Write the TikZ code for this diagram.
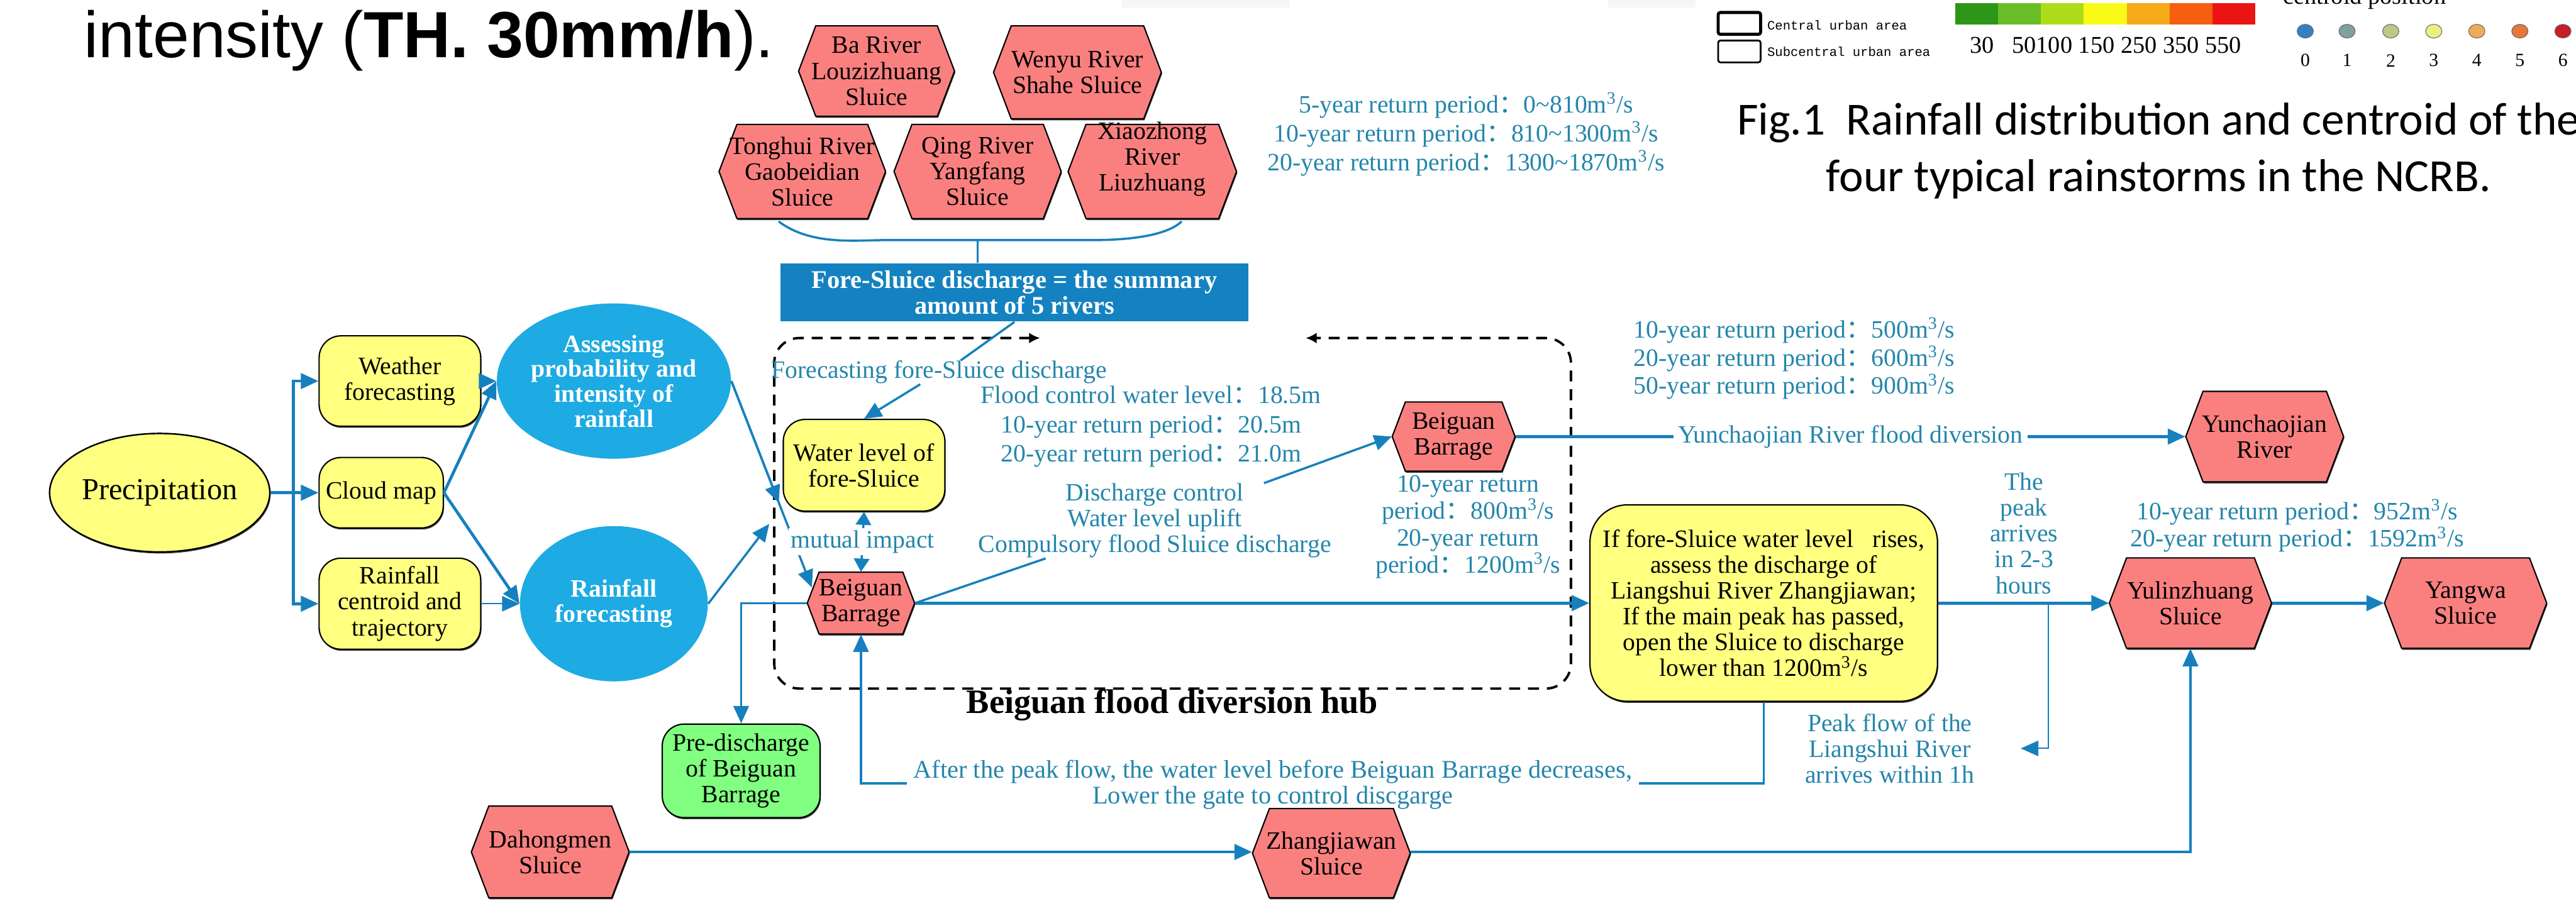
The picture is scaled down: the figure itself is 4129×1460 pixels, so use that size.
\documentclass[tikz,border=0pt]{standalone}
\usepackage{fontspec}
\setmainfont{Liberation Serif}
\newfontfamily\sansf{Liberation Sans}
\newfontfamily\capf{Carlito}
\newfontfamily\monof{Liberation Mono}
\newfontfamily\cjkf{Noto Sans CJK SC}
\usetikzlibrary{shapes.geometric,arrows.meta,calc,shadows}

\definecolor{ablue}{RGB}{22,128,190}
\definecolor{tblue}{RGB}{36,134,172}
\definecolor{lblue}{RGB}{30,170,226}
\definecolor{bbox}{RGB}{20,130,192}
\definecolor{yel}{RGB}{255,255,128}
\definecolor{grn}{RGB}{128,255,128}
\definecolor{hexred}{RGB}{250,128,128}
\definecolor{cb1}{RGB}{45,150,25}
\definecolor{cb2}{RGB}{105,190,40}
\definecolor{cb3}{RGB}{175,220,25}
\definecolor{cb4}{RGB}{250,250,25}
\definecolor{cb5}{RGB}{245,170,25}
\definecolor{cb6}{RGB}{245,95,15}
\definecolor{cb7}{RGB}{235,20,20}
\definecolor{d0}{RGB}{50,130,195}
\definecolor{d1}{RGB}{130,160,160}
\definecolor{d2}{RGB}{190,200,130}
\definecolor{d3}{RGB}{235,240,130}
\definecolor{d4}{RGB}{240,170,90}
\definecolor{d5}{RGB}{230,120,60}
\definecolor{d6}{RGB}{200,30,40}

\newcommand\fc{{\cjkf ：}}
\newcommand\msq{m\textsuperscript{3}/s}

\tikzset{
  shd/.style={drop shadow={shadow xshift=0.35pt, shadow yshift=-0.7pt, fill=black!75, opacity=1}},
  ybox/.style={draw=black, line width=0.6pt, fill=yel, rounded corners=3.5mm, align=center,
    inner sep=0pt, shd, font=\fontsize{11.4}{11.8}\selectfont},
  hexlabel/.style={align=center, inner sep=0pt, font=\fontsize{11.4}{11.8}\selectfont},
  hexsty/.style={fill=hexred, draw=black, line width=0.6pt, shd},
  bell/.style={ellipse, fill=lblue, text=white, align=center, inner sep=0pt,
    font=\bfseries\fontsize{11.4}{11.4}\selectfont},
  btxt/.style={text=tblue, align=center, inner sep=0pt, font=\fontsize{11.4}{11.8}\selectfont},
  thk/.style={draw=ablue, line width=1.35pt},
  med/.style={draw=ablue, line width=1.0pt},
  thn/.style={draw=ablue, line width=0.6pt},
  arr/.style={-{Triangle[length=8pt,width=7pt]}},
  dsh/.style={draw=black, line width=1.1pt, dash pattern=on 5pt off 3.6pt},
}

% name, x, y, w, h, text, extra node options
\newcommand\hx[7]{%
  \pgfmathsetmacro\hxd{0.19*#5}%
  \filldraw[hexsty] ({#2-#4/2+\hxd},{#3-#5/2}) -- ({#2+#4/2-\hxd},{#3-#5/2}) -- ({#2+#4/2},{#3})
     -- ({#2+#4/2-\hxd},{#3+#5/2}) -- ({#2-#4/2+\hxd},{#3+#5/2}) -- ({#2-#4/2},{#3}) -- cycle;
  \node[hexlabel, minimum width={#4*0.1mm}, minimum height={#5*0.1mm}, #7] (#1) at (#2,#3) {#6};%
}

\begin{document}
\begin{tikzpicture}[x=0.1mm,y=-0.1mm]
\useasboundingbox (0,0) rectangle (4129,1460);
\fill[white] (0,0) rectangle (4129,1460);

% ---------- top strip: title, legend, caption ----------
\node[anchor=base west, inner sep=0pt, font=\sansf\fontsize{29.8}{30}\selectfont] (title) at (134,92)
  {intensity (\textbf{TH. 30mm/h}).};

\fill[gray!7] (1798,0) rectangle (2066,12);
\fill[gray!7] (2578,0) rectangle (2718,12);
\draw[line width=1.4pt, rounded corners=1pt] (2754,20) rectangle (2822,55);
\draw[line width=0.8pt, rounded corners=1pt] (2754,65) rectangle (2822,100);
\node[anchor=west, inner sep=0pt, font=\monof\fontsize{5.9}{6}\selectfont] (lg1) at (2832,40) {Central urban area};
\node[anchor=west, inner sep=0pt, font=\monof\fontsize{5.9}{6}\selectfont] (lg2) at (2832,83) {Subcentral urban area};

\foreach \c [count=\i] in {cb1,cb2,cb3,cb4,cb5,cb6,cb7}
  \fill[\c] ({3134+(\i-1)*68.7},5) rectangle ++(68.7,34);
\node[inner sep=0pt, font=\fontsize{11}{11}\selectfont] (cbn) at (3375,73) {30\ \ \ 50100 150 250 350 550};

\node[anchor=base, inner sep=0pt, font=\fontsize{11}{11}\selectfont] (cpos) at (3790,7) {centroid position};
\foreach \xx/\cc [count=\i from 0] in {3695/d0,3762/d1,3832/d2,3901/d3,3970/d4,4039/d5,4108/d6}{
  \filldraw[fill=\cc, draw=black!60, line width=0.3pt] (\xx,50) ellipse [x radius=1.3mm, y radius=1.1mm];
  \node[inner sep=0pt, font=\fontsize{8.5}{9}\selectfont] (dn\i) at (\xx,97) {\i};
}

\node[inner sep=0pt, align=center, font=\capf\fontsize{21}{25.6}\selectfont] (cap) at (3460,242)
  {Fig.1\ \ Rainfall distribution and centroid of the\\four typical rainstorms in the NCRB.};

% ---------- five rivers ----------
\hx{ba}{1405}{114}{250}{145}{Ba River\\Louzizhuang\\Sluice}{}
\hx{wy}{1727}{116}{269}{149}{Wenyu River\\Shahe Sluice}{}
\hx{th}{1286}{275}{267}{151}{Tonghui River\\Gaobeidian\\Sluice}{}
\hx{qr}{1567}{275}{268}{151}{Qing River\\Yangfang\\Sluice}{}
\hx{xz}{1847}{275}{270}{151}{Xiaozhong\\River\\Liuzhuang}{yshift=2mm}

\coordinate (brc) at (1567,385);
\draw[med] (1248,355) .. controls (1300,394) and (1370,385) .. (1420,385) -- (1750,385)
  .. controls (1810,385) and (1870,378) .. (1894,355);
\node[fill=bbox, text=white, align=center, inner sep=0pt, minimum width=75mm, minimum height=9.3mm,
  font=\bfseries\fontsize{11.6}{12}\selectfont] (fsd) at (1626,469)
  {Fore-Sluice discharge = the summary\\amount of 5 rivers};
\draw[thn] (brc) -- (brc |- fsd.north);

\node[btxt, font=\fontsize{11.4}{13.2}\selectfont] (rp5) at (2350,215)
  {5-year return period\fc 0\textasciitilde 810\msq\\10-year return period\fc 810\textasciitilde 1300\msq\\20-year return period\fc 1300\textasciitilde 1870\msq};

% ---------- left part ----------
\node[ellipse, draw=black, line width=0.7pt, fill=yel, shd, minimum width=33mm, minimum height=19mm,
  inner sep=0pt, font=\fontsize{13.9}{14}\selectfont] (prec) at (256,790) {Precipitation};
\node[ybox, minimum width=25.9mm, minimum height=14.5mm] (wf) at (641,611) {Weather\\forecasting};
\node[ybox, minimum width=19.9mm, minimum height=11.3mm] (cm) at (611,790) {Cloud map};
\node[ybox, minimum width=25.9mm, minimum height=14.6mm] (rc) at (641,968) {Rainfall\\centroid and\\trajectory};
\node[bell, minimum width=30.1mm, minimum height=24.9mm] (apr) at (984,611) {Assessing\\probability and\\intensity of\\rainfall};
\node[bell, minimum width=30.1mm, minimum height=24.9mm] (rf) at (984,968) {Rainfall\\forecasting};

\coordinate (trk) at (470,790);
\draw[thk] (prec.east) -- (trk);
\draw[thk,arr] (trk) |- (wf.west);
\draw[thk,arr] (trk) -- (cm.west);
\draw[thk,arr] (trk) |- (rc.west);
\draw[thk,arr] (wf.east) -- (apr.west);
\draw[thk,arr] (cm.east) -- (apr.west);
\draw[thk,arr] (cm.east) -- (rf.west);
\draw[thn,arr] (rc.east) -- (rf.west);

% ---------- hub ----------
\draw[dsh, rounded corners=4mm, {Latex[length=5pt,width=5pt]}-{Latex[length=5pt,width=5pt]}]
  (1667,542) -- (1241,542) -- (1241,1104) -- (2518,1104) -- (2518,542) -- (2093,542);
\node[inner sep=0pt, font=\bfseries\fontsize{15.6}{16}\selectfont] (hub) at (1879,1130) {Beiguan flood diversion hub};

\node[btxt] (fcast) at (1505,597) {Forecasting fore-Sluice discharge};
\node[btxt, font=\fontsize{11.4}{13.3}\selectfont] (fcl) at (1845,684)
  {Flood control water level\fc 18.5m\\10-year return period\fc 20.5m\\20-year return period\fc 21.0m};
\node[ybox, minimum width=25.9mm, minimum height=14.7mm] (wl) at (1385,746) {Water level of\\fore-Sluice};
\hx{bgl}{1380}{967}{172}{99}{Beiguan\\Barrage}{}
\hx{bgu}{2330}{700}{197}{111}{Beiguan\\Barrage}{}
\node[btxt] (dct) at (1851,835) {Discharge control\\Water level uplift\\Compulsory flood Sluice discharge};
\node[btxt, font=\fontsize{11.4}{12.3}\selectfont] (bgut) at (2353,845)
  {10-year return\\period\fc 800\msq\\20-year return\\period\fc 1200\msq};

\draw[med,arr] (apr.east) -- ($(apr.east)!0.59!($(bgl.west)+(8,-25)$)$);
\draw[med,arr] (apr.east) -- ($(bgl.west)+(8,-25)$);
\draw[med,arr] (rf.east) -- (1233,840);
\draw[med] (fsd.south) -- ($(fcast.north)+(35,0)$);
\draw[med,arr] ($(fcast.south)+(-30,0)$) -- (wl.north);
\draw[med,{Triangle[length=6pt,width=7pt]}-{Triangle[length=6pt,width=7pt]}] (wl.south) --
  node[fill=white, text=tblue, inner sep=1pt, font=\fontsize{11.4}{11.8}\selectfont] (mut) {mutual impact} (bgl.north);
\draw[med] (bgl.east) -- ($(dct.south)+(-175,0)$);
\draw[med,arr] ($(dct.north)+(175,0)$) -- (bgu.west);

% ---------- right part ----------
\node[ybox, rounded corners=6mm, minimum width=55.7mm, minimum height=31.5mm] (ifb) at (2827,967)
  {If fore-Sluice water level\ \ \ rises,\\assess the discharge of\\Liangshui River Zhangjiawan;\\If the main peak has passed,\\open the Sluice to discharge\\lower than 1200\msq};
\hx{yun}{3630}{700}{253}{145}{Yunchaojian\\River}{}
\node[btxt, font=\fontsize{11.4}{12.8}\selectfont] (rp50) at (2876,575)
  {10-year return period\fc 500\msq\\20-year return period\fc 600\msq\\50-year return period\fc 900\msq};
\hx{yul}{3511}{967}{260}{145}{Yulinzhuang\\Sluice}{}
\hx{yan}{3952}{967}{260}{145}{Yangwa\\Sluice}{}
\node[btxt, font=\fontsize{11.4}{12.5}\selectfont] (rp952) at (3682,843)
  {10-year return period\fc 952\msq\\20-year return period\fc 1592\msq};
\node[btxt] (peak) at (3244,855) {The\\peak\\arrives\\in 2-3\\hours};
\node[btxt] (pfl) at (3029,1200) {Peak flow of the\\Liangshui River\\arrives within 1h};

\draw[thk,arr] (bgl.east) -- (ifb.west);
\draw[thk,arr] (bgu.east) -- node[fill=white, text=tblue, inner sep=2pt, font=\fontsize{11.4}{11.8}\selectfont] (ydiv)
  {Yunchaojian River flood diversion} (yun.west);
\draw[thk,arr] (ifb.east) -- (yul.west);
\draw[thk,arr] (yul.east) -- (yan.west);
\coordinate (pk1) at (3283,967);
\coordinate (pk2) at (3283,1200);
\coordinate (pk3) at (3239,1200);
\draw[thn,arr] (pk1) -- (pk2) -- (pk3);

% ---------- bottom ----------
\node[ybox, fill=grn, minimum width=25.3mm, minimum height=15mm] (prd) at (1188,1236) {Pre-discharge\\of Beiguan\\Barrage};
\node[btxt, font=\fontsize{11.6}{11.8}\selectfont] (aft) at (2040,1258)
  {After the peak flow, the water level before Beiguan Barrage decreases,\\Lower the gate to control discgarge};
\coordinate (aftL) at (1454,1256);
\coordinate (aftR) at (2627,1256);
\hx{dah}{882}{1366}{253}{147}{Dahongmen\\Sluice}{}
\hx{zha}{2134}{1368}{253}{143}{Zhangjiawan\\Sluice}{}

\draw[med,arr] (bgl.west) -| (prd.north);
\draw[med] (ifb.south) |- (aftR);
\draw[med,arr] (aftL) -| (bgl.south);
\draw[thk,arr] (dah.east) -- (dah.east -| zha.west);
\draw[med,arr] (zha.east |- dah.east) -| (yul.south);
\end{tikzpicture}
\end{document}
